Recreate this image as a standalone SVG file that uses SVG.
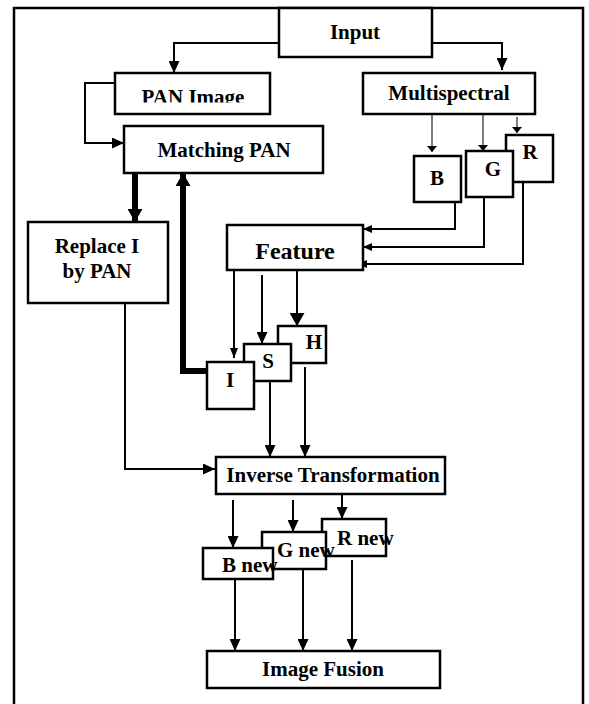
<svg xmlns="http://www.w3.org/2000/svg" width="589" height="704" viewBox="0 0 589 704">
<style>
.box{fill:#fff;stroke:#000;stroke-width:2.5}
.lbl{font-family:"Liberation Serif","Times New Roman",serif;font-weight:bold;font-size:21px;fill:#000;text-anchor:middle}
.st{text-anchor:start}
.c{fill:none;stroke:#000;stroke-width:2}
.thin{fill:none;stroke:#222;stroke-width:1.2}
.thick{fill:none;stroke:#000;stroke-width:6}
</style>
<defs>
<marker id="arr" viewBox="0 0 12 11" refX="12" refY="5.5" markerWidth="12" markerHeight="11" markerUnits="userSpaceOnUse" orient="auto"><path d="M0,0L12,5.5L0,11z"/></marker>
<marker id="arrS" viewBox="0 0 9 8" refX="9" refY="4" markerWidth="9" markerHeight="8" markerUnits="userSpaceOnUse" orient="auto"><path d="M0,0L9,4L0,8z"/></marker>
<marker id="arrN" viewBox="0 0 10 8" refX="10" refY="4" markerWidth="10" markerHeight="8" markerUnits="userSpaceOnUse" orient="auto"><path d="M0,0L10,4L0,8z"/></marker>
<marker id="arrT" viewBox="0 0 6 10" refX="6" refY="5" markerWidth="6" markerHeight="10" markerUnits="userSpaceOnUse" orient="auto"><path d="M0,0L6,5L0,10z"/></marker>
<marker id="arrB" viewBox="0 0 13 15" refX="13" refY="7.5" markerWidth="13" markerHeight="15" markerUnits="userSpaceOnUse" orient="auto"><path d="M0,0L13,7.5L0,15z"/></marker>
<clipPath id="panclip"><rect x="115" y="73" width="155" height="29.5"/></clipPath>
</defs>
<path d="M14,704V8H583V704" fill="none" stroke="#000" stroke-width="2.5"/>
<g id="connectors">
<path class="c" d="M279,43H174V73" marker-end="url(#arr)"/>
<path class="c" d="M432,43H502V70" marker-end="url(#arr)"/>
<path class="c" d="M115,83H85V143H124" marker-end="url(#arr)"/>
<path class="thick" d="M135,173V222" marker-end="url(#arrB)"/>
<path class="thick" d="M207,371H183V173" marker-end="url(#arrB)"/>
<path class="thin" d="M432,114V152" marker-end="url(#arrT)"/>
<path class="thin" d="M483,114V151" marker-end="url(#arrT)"/>
<path class="thin" d="M517,117V133" marker-end="url(#arrT)"/>
<path class="c" d="M455,202V229H363" marker-end="url(#arrS)"/>
<path class="c" d="M484,197V247H363" marker-end="url(#arrS)"/>
<path class="c" d="M523,182V264H358" marker-end="url(#arrS)"/>
<path class="c" d="M234,270V358" marker-end="url(#arrN)"/>
<path class="c" d="M262,275V344" marker-end="url(#arr)"/>
<path class="c" d="M297,270V326" marker-end="url(#arrB)"/>
<path class="c" d="M270,381V457" marker-end="url(#arr)"/>
<path class="c" d="M305,367V457" marker-end="url(#arr)"/>
<path class="c" d="M125,303V469H215" marker-end="url(#arr)"/>
<path class="c" d="M233,500V548" marker-end="url(#arr)"/>
<path class="c" d="M293,500V532" marker-end="url(#arr)"/>
<path class="c" d="M342,490V519" marker-end="url(#arr)"/>
<path class="c" d="M235,579V651" marker-end="url(#arr)"/>
<path class="c" d="M303,569V651" marker-end="url(#arr)"/>
<path class="c" d="M352,560V651" marker-end="url(#arr)"/>
</g>
<g id="input"><rect class="box" x="279" y="8" width="153" height="49"/><text class="lbl" x="355" y="39">Input</text></g>
<g id="pan-image"><rect class="box" x="115" y="73" width="155" height="41"/><text class="lbl" x="193" y="104" clip-path="url(#panclip)">PAN Image</text></g>
<g id="multispectral"><rect class="box" x="363" y="73" width="172" height="41"/><text class="lbl" x="449" y="100">Multispectral</text></g>
<g id="matching-pan"><rect class="box" x="124" y="126" width="199" height="47"/><text class="lbl" x="224" y="157">Matching PAN</text></g>
<g id="b"><rect class="box" x="414" y="156" width="47" height="46"/><text class="lbl" x="437" y="185">B</text></g>
<g id="r"><rect class="box" x="506" y="135" width="47" height="47"/><text class="lbl" x="530" y="159">R</text></g>
<g id="g"><rect class="box" x="466" y="151" width="47" height="46"/><text class="lbl" x="493" y="176">G</text></g>
<g id="replace"><rect class="box" x="28" y="222" width="140" height="81"/><text class="lbl" x="97" y="253">Replace I</text><text class="lbl" x="97" y="278">by PAN</text></g>
<g id="feature"><rect class="box" x="227" y="225" width="136" height="45"/><text class="lbl" x="295" y="259" style="font-size:24px">Feature</text></g>
<g id="h"><rect class="box" x="278" y="326" width="48" height="37"/><text class="lbl" x="314" y="349">H</text></g>
<g id="s"><rect class="box" x="244" y="344" width="47" height="37"/><text class="lbl" x="268" y="368">S</text></g>
<g id="i"><rect class="box" x="207" y="362" width="47" height="47"/><text class="lbl" x="230" y="387">I</text></g>
<g id="inverse"><rect class="box" x="216" y="457" width="229" height="37"/><text class="lbl" x="333" y="482">Inverse Transformation</text></g>
<g id="r-new"><rect class="box" x="322" y="519" width="64" height="37"/><text class="lbl st" x="337" y="545">R new</text></g>
<g id="g-new"><rect class="box" x="262" y="532" width="64" height="37"/><text class="lbl st" x="277" y="557">G new</text></g>
<g id="b-new"><rect class="box" x="203" y="548" width="70" height="31"/><text class="lbl st" x="222" y="572">B new</text></g>
<g id="image-fusion"><rect class="box" x="207" y="651" width="233" height="37"/><text class="lbl" x="323" y="676">Image Fusion</text></g>
</svg>
